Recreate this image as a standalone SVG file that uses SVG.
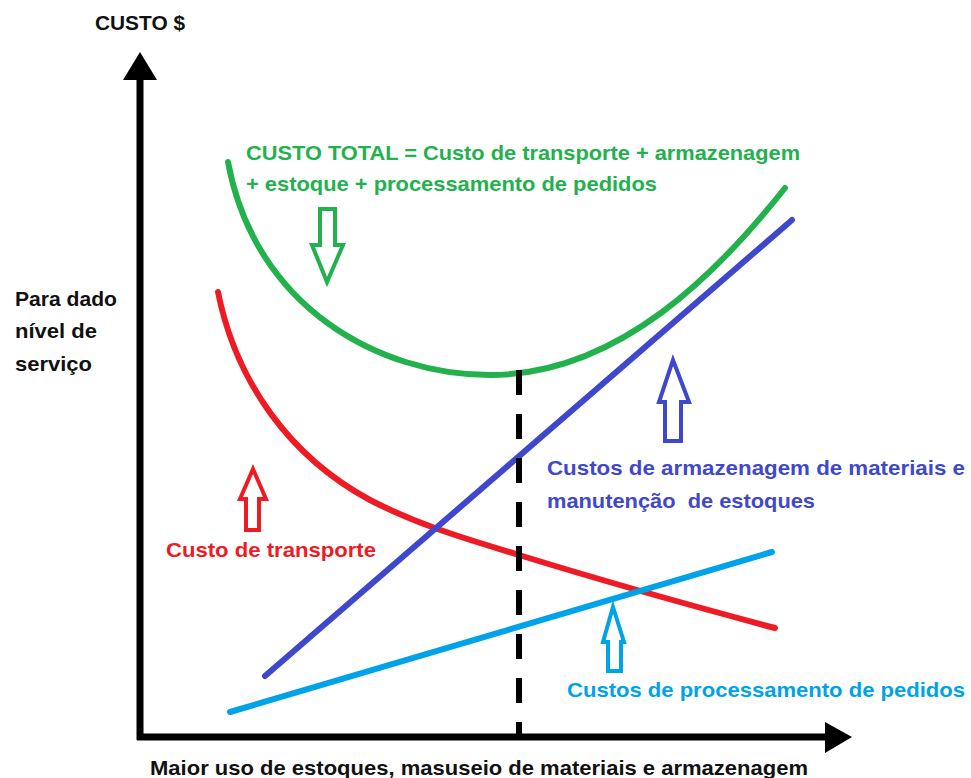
<svg xmlns="http://www.w3.org/2000/svg" width="971" height="778" viewBox="0 0 971 778">
<style>
text{font-family:"Liberation Sans",Arial,sans-serif;font-weight:bold;font-size:21px;white-space:pre}
.k{fill:#111}
.g{fill:#22b14c}
.r{fill:#ed1c24}
.b{fill:#3f48cc}
.c{fill:#00a2e8}
.crv{fill:none;stroke-width:6;stroke-linecap:round}
.arr{fill:#fff;stroke-width:4;stroke-linejoin:miter}
</style>
<rect width="971" height="778" fill="#fff"/>
<g id="axes">
<line x1="140" y1="78" x2="140" y2="740" stroke="#000" stroke-width="7"/>
<polygon points="140,52 123,80 157,80" fill="#000"/>
<line x1="137" y1="737" x2="828" y2="737" stroke="#000" stroke-width="7"/>
<polygon points="852,737 825,722 825,753" fill="#000"/>
</g>
<g id="connectors">
<path id="total" class="crv" stroke="#22b14c" d="M228,162 C255,308 380,375 490,375 C620,375 720,270 785,188"/>
<path id="transporte" class="crv" stroke="#ed1c24" d="M218,292 C236,382 290,457 370,500 C420,526 470,540 519,555 C600,580 700,608 775,628"/>
<line id="armazenagem" class="crv" stroke="#3f48cc" x1="265" y1="676" x2="792" y2="220"/>
<line id="processamento" class="crv" stroke="#00a2e8" x1="230" y1="712" x2="772" y2="552"/>
<line id="otimo" x1="519" y1="370" x2="519" y2="738" stroke="#000" stroke-width="6" stroke-dasharray="25 19"/>
</g>
<g id="arrow-total"><polygon class="arr" stroke="#22b14c" points="320,209 335,209 335,245 343,245 327,282 312,245 320,245"/></g>
<g id="arrow-transporte"><polygon class="arr" stroke="#ed1c24" points="253,469 266,499 259,499 259,530 246,530 246,499 240,499"/></g>
<g id="arrow-armazenagem"><polygon class="arr" stroke="#3f48cc" points="673,360 689,402 681,402 681,441 665,441 665,402 659,402"/></g>
<g id="arrow-processamento"><polygon class="arr" stroke="#00a2e8" points="613,607 624,642 621,642 621,671 608,671 608,642 603,642"/></g>
<g id="labels">
<text class="k" x="95" y="30" textLength="90" lengthAdjust="spacingAndGlyphs">CUSTO $</text>
<text class="k" x="15" y="306" textLength="102" lengthAdjust="spacingAndGlyphs">Para dado</text>
<text class="k" x="15" y="338" textLength="82" lengthAdjust="spacingAndGlyphs">nível de</text>
<text class="k" x="15" y="371" textLength="77" lengthAdjust="spacingAndGlyphs">serviço</text>
<text class="g" x="246" y="160" textLength="554" lengthAdjust="spacingAndGlyphs">CUSTO TOTAL = Custo de transporte + armazenagem</text>
<text class="g" x="246" y="191" textLength="411" lengthAdjust="spacingAndGlyphs">+ estoque + processamento de pedidos</text>
<text class="b" x="547" y="475" textLength="418" lengthAdjust="spacingAndGlyphs">Custos de armazenagem de materiais e</text>
<text class="b" x="547" y="508" textLength="268" lengthAdjust="spacingAndGlyphs">manutenção  de estoques</text>
<text class="r" x="166" y="557" textLength="210" lengthAdjust="spacingAndGlyphs">Custo de transporte</text>
<text class="c" x="567" y="697" textLength="398" lengthAdjust="spacingAndGlyphs">Custos de processamento de pedidos</text>
<text class="k" x="150" y="775" textLength="658" lengthAdjust="spacingAndGlyphs">Maior uso de estoques, masuseio de materiais e armazenagem</text>
</g>
</svg>
